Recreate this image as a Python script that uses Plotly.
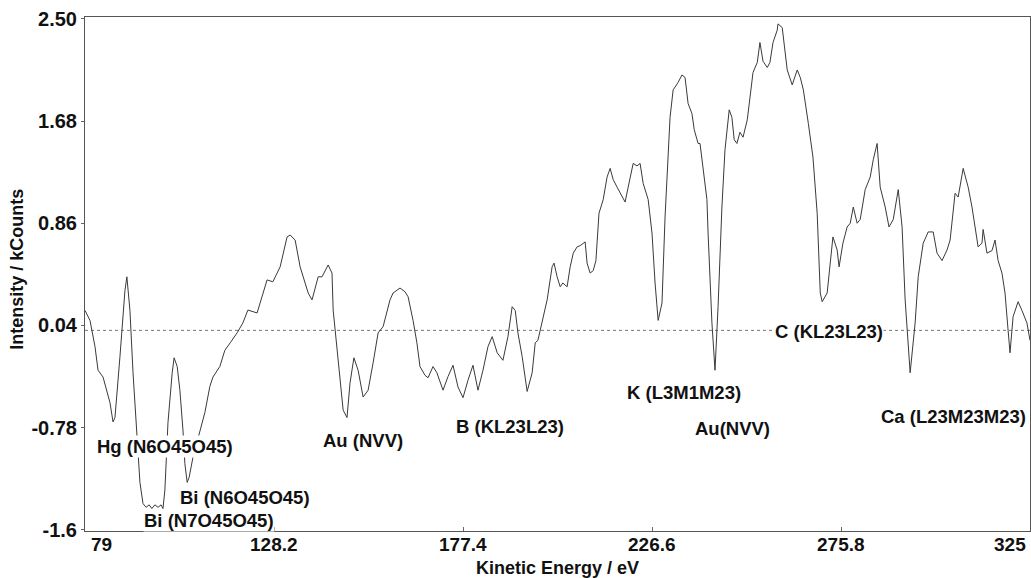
import plotly.graph_objects as go

# ---- data (Kinetic Energy in eV, Intensity in kCounts) ----
energy = [79.0, 80.3, 81.6, 82.4, 83.7, 84.7, 85.5, 86.3, 86.8, 88.1, 89.4, 89.9, 90.7, 91.5,
          92.5, 93.3, 94.1, 94.9, 95.7, 96.4, 97.2, 98.0, 98.8, 99.3, 99.8, 100.6, 101.7, 102.2,
          103.0, 103.7, 104.5, 105.0, 105.6, 106.1, 107.1, 108.9, 110.2, 111.5, 112.3, 114.1,
          115.4, 116.8, 118.6, 120.1, 121.4, 123.8, 125.1, 126.4, 127.9, 129.8, 131.6, 132.4,
          133.7, 135.0, 137.1, 138.1, 139.7, 140.7, 142.3, 143.3, 143.6, 144.9, 146.2, 147.2,
          148.0, 149.0, 150.1, 151.4, 152.7, 154.0, 155.3, 156.6, 158.4, 159.2, 160.2, 161.0,
          162.3, 163.1, 164.4, 165.4, 166.2, 167.5, 168.3, 169.6, 170.6, 172.2, 173.5, 174.8,
          176.1, 177.4, 178.7, 180.0, 181.3, 182.6, 183.9, 185.0, 186.3, 187.8, 189.1, 190.2,
          191.0, 191.7, 192.8, 193.6, 194.1, 195.4, 196.2, 196.9, 198.0, 199.3, 200.6, 201.1,
          201.9, 202.7, 203.4, 204.5, 205.3, 206.1, 207.1, 207.9, 209.2, 209.7, 210.5, 211.3,
          212.0, 212.8, 213.9, 214.9, 215.7, 216.5, 217.5, 218.8, 219.6, 220.4, 221.7, 222.7,
          223.5, 224.3, 225.6, 226.6, 227.4, 228.2, 229.2, 230.0, 231.3, 232.1, 232.6, 233.4,
          234.4, 235.2, 236.0, 237.0, 237.6, 238.6, 239.1, 239.9, 240.9, 241.2, 242.0, 242.2,
          243.0, 243.8, 244.8, 245.6, 246.7, 247.4, 248.0, 248.7, 249.5, 250.3, 251.4, 252.1,
          252.9, 254.0, 254.7, 255.5, 256.6, 257.3, 258.1, 259.2, 259.4, 260.5, 261.2, 261.8,
          263.1, 263.9, 264.4, 265.2, 266.0, 267.3, 268.5, 269.6, 270.4, 270.9, 272.2, 273.7,
          274.8, 275.3, 276.3, 277.4, 278.2, 279.0, 280.0, 280.8, 282.1, 283.4, 284.2, 285.2,
          286.0, 287.3, 288.3, 289.4, 290.7, 291.7, 292.5, 293.8, 295.1, 295.9, 297.2, 298.5,
          299.8, 300.8, 302.1, 303.4, 304.2, 305.5, 306.3, 307.6, 308.9, 309.9, 310.7, 311.5,
          312.5, 312.8, 313.8, 315.1, 315.9, 316.7, 317.7, 318.5, 319.3, 319.8, 320.6, 321.9,
          322.9, 324.2, 325.0]

intensity = [0.16, 0.08, -0.13, -0.32, -0.375, -0.48, -0.58, -0.735, -0.70, -0.21, 0.32, 0.43,
             0.16, -0.34, -0.88, -1.22, -1.39, -1.42, -1.40, -1.43, -1.40, -1.42, -1.40, -1.43,
             -1.28, -0.74, -0.34, -0.22, -0.29, -0.48, -0.80, -1.07, -1.22, -1.18, -1.02, -0.80,
             -0.66, -0.45, -0.375, -0.29, -0.16, -0.10, -0.02, 0.06, 0.163, 0.14, 0.27, 0.405,
             0.39, 0.51, 0.75, 0.765, 0.725, 0.51, 0.30, 0.245, 0.43, 0.43, 0.525, 0.46, 0.163,
             -0.21, -0.64, -0.70, -0.42, -0.22, -0.32, -0.535, -0.48, -0.26, -0.02, 0.03, 0.245,
             0.30, 0.32, 0.34, 0.31, 0.27, 0.08, -0.10, -0.29, -0.36, -0.38, -0.29, -0.34, -0.48,
             -0.37, -0.28, -0.455, -0.54, -0.40, -0.28, -0.48, -0.32, -0.13, -0.05, -0.18, -0.24,
             -0.05, 0.19, 0.16, -0.02, -0.21, -0.40, -0.49, -0.34, -0.10, -0.08, 0.08, 0.245,
             0.51, 0.54, 0.43, 0.35, 0.38, 0.35, 0.51, 0.62, 0.67, 0.68, 0.71, 0.54, 0.46, 0.48,
             0.56, 0.94, 1.05, 1.23, 1.30, 1.21, 1.15, 1.07, 1.03, 1.15, 1.34, 1.32, 1.34, 1.18,
             1.05, 0.78, 0.38, 0.08, 0.22, 0.91, 1.71, 1.93, 1.95, 1.99, 2.05, 2.03, 1.82, 1.74,
             1.61, 1.50, 1.50, 1.31, 1.05, 0.78, 0.245, 0.06, -0.32, 0.19, 0.99, 1.45, 1.77,
             1.71, 1.53, 1.50, 1.59, 1.55, 1.69, 1.85, 2.07, 2.15, 2.31, 2.16, 2.11, 2.15, 2.31,
             2.41, 2.46, 2.43, 2.22, 2.09, 1.97, 2.05, 2.09, 2.03, 1.93, 1.66, 1.39, 0.94, 0.30,
             0.23, 0.30, 0.75, 0.645, 0.51, 0.70, 0.83, 0.86, 0.99, 0.86, 0.89, 1.13, 1.23, 1.37,
             1.50, 1.15, 0.99, 0.83, 0.89, 1.13, 0.83, 0.245, -0.34, 0.06, 0.43, 0.70, 0.79,
             0.79, 0.62, 0.56, 0.645, 0.725, 1.10, 1.07, 1.30, 1.15, 0.99, 0.83, 0.67, 0.70,
             0.81, 0.62, 0.64, 0.725, 0.56, 0.46, 0.30, 0.0, -0.18, 0.11, 0.23, 0.16, 0.06, -0.08]

x_tick_values = [79, 128.2, 177.4, 226.6, 275.8, 325]
x_tick_labels = ["79", "128.2", "177.4", "226.6", "275.8", "325"]
y_tick_values = [2.50, 1.68, 0.86, 0.04, -0.78, -1.6]
y_tick_labels = ["2.50", "1.68", "0.86", "0.04", "-0.78", "-1.6"]

peak_labels = ["Hg (N6O45O45)", "Bi (N6O45O45)", "Bi (N7O45O45)", "Au (NVV)", "B (KL23L23)",
               "K (L3M1M23)", "Au(NVV)", "C (KL23L23)", "Ca (L23M23M23)"]
label_energy = [99.8, 120.7, 111.4, 151.4, 189.6, 234.8, 247.6, 272.6, 305.1]
label_intensity = [-0.93, -1.34, -1.525, -0.88, -0.775, -0.50, -0.785, -0.01, -0.695]

FONT = "Liberation Sans, Arial, Helvetica, sans-serif"

fig = go.Figure()
fig.add_trace(go.Scatter(x=energy, y=intensity, mode="lines",
                         line=dict(color="#3a3a3a", width=1), showlegend=False,
                         hoverinfo="x+y"))

fig.add_shape(type="line", xref="x", yref="y", x0=79, x1=325, y0=0, y1=0,
              line=dict(color="#777777", width=1, dash="dot"), layer="below")

annotations = []
for t, ex, iy in zip(peak_labels, label_energy, label_intensity):
    annotations.append(dict(x=ex, y=iy, xref="x", yref="y", text=t, showarrow=False,
                            bgcolor="white", borderpad=0,
                            font=dict(family=FONT, size=18.5, color="#111111", weight="bold")))

for v, t in zip(x_tick_values, x_tick_labels):
    anchor, shift = "center", 0
    if v == x_tick_values[0]:
        anchor, shift = "left", 4
    elif v == x_tick_values[-1]:
        anchor, shift = "right", -2
    annotations.append(dict(x=v, y=-0.027, xref="x", yref="paper", text=t, showarrow=False,
                            xanchor=anchor, yanchor="middle", xshift=shift,
                            font=dict(family=FONT, size=19, color="#111111", weight="bold")))

annotations.append(dict(x=0.5, y=-0.072, xref="paper", yref="paper", text="Kinetic Energy / eV",
                        showarrow=False, xanchor="center", yanchor="middle",
                        font=dict(family=FONT, size=18, color="#111111", weight="bold")))
annotations.append(dict(x=-0.072, y=0.51, xref="paper", yref="paper", text="Intensity / kCounts",
                        showarrow=False, xanchor="center", yanchor="middle", textangle=-90,
                        font=dict(family=FONT, size=18, color="#111111", weight="bold")))

fig.update_layout(
    width=1031, height=578,
    margin=dict(l=85, r=1, t=17, b=47),
    paper_bgcolor="white", plot_bgcolor="white",
    annotations=annotations,
    xaxis=dict(range=[79, 325], tickvals=x_tick_values, showticklabels=False,
               ticks="inside", ticklen=4, tickcolor="#666666",
               showline=True, linecolor="#555555", linewidth=1, mirror=True,
               showgrid=False, zeroline=False),
    yaxis=dict(range=[-1.61, 2.515], tickvals=y_tick_values, ticktext=y_tick_labels,
               ticks="outside", ticklen=3, tickcolor="#666666",
               tickfont=dict(family=FONT, size=20, color="#111111", weight="bold"),
               showline=True, linecolor="#555555", linewidth=1, mirror=True,
               showgrid=False, zeroline=False),
)

fig.write_html("out.html",
               config={"displayModeBar": False},
               post_script="document.body.style.margin='0px';"
                           "document.body.style.overflow='hidden';")
